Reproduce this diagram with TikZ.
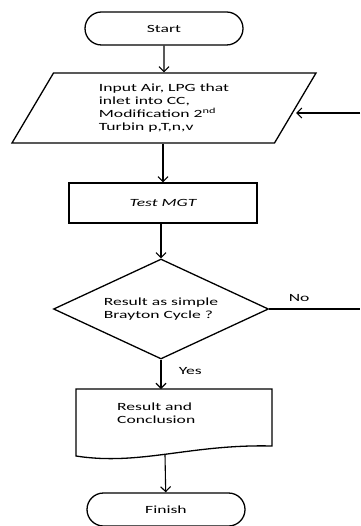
\documentclass[tikz,border=0pt]{standalone}
\usepackage{fontspec}
\setmainfont{Carlito}[FakeStretch=1.6]
\usetikzlibrary{shapes.geometric,shapes.misc,arrows.meta,shadows}
\begin{document}
\begin{tikzpicture}[x=1pt,y=-1pt,
  line/.style={line width=1.1pt},
  arr/.style={line,-{Straight Barb[length=5pt,width=10pt]}},
  shp/.style={draw,line width=1.3pt,inner sep=0pt,font=\fontsize{11}{13}\selectfont},
  term/.style={shp,rounded rectangle,minimum width=158pt,minimum height=33pt},
  lbl/.style={font=\fontsize{11}{13}\selectfont}]
\useasboundingbox (0,0) rectangle (360,526);
\node[term] (start) at (164,28.5) {Start};
\node[shp,trapezium,trapezium left angle=49.4,trapezium right angle=130.6,
  trapezium stretches body,minimum width=304pt,minimum height=70pt,align=left] (input) at (164,108)
  {Input Air, LPG that\\inlet into CC,\\Modification 2\textsuperscript{nd}\\Turbin p,T,n,v};
\node[shp,rectangle,minimum width=188pt,minimum height=40pt,
  drop shadow={shadow xshift=1.2pt,shadow yshift=-1.2pt,fill=black,opacity=1},fill=white] (test) at (163,203)
  {\itshape Test MGT};
\node[shp,diamond,aspect=2.15,minimum width=215pt,minimum height=100pt,align=left] (check) at (161,309)
  {Result as simple\\Brayton Cycle ?};
\draw[line width=1.3pt] (76,389) -- (272,389) -- (272,446) .. controls (190,444) and (140,466) .. (76,456) -- cycle;
\node[lbl,anchor=north west,align=left,inner sep=0pt] (result) at (117,403) {Result and\\Conclusion};
\coordinate (result-n) at (161,389);
\coordinate (result-s) at (165,454.5);
\node[term] (finish) at (166,509.5) {Finish};
\coordinate (fbout) at (360,309);
\coordinate (fbin) at (360,113);
\coordinate (fbtip) at (296,113);
\draw[arr] (start) -- (input);
\draw[arr] (input.south -| test.north) -- (test);
\draw[arr] (test.south -| check.north) -- (check);
\draw[arr] (check) -- (result-n) node[lbl,pos=0.4,right=14pt] {Yes};
\draw[arr] (result-s) -- (finish);
\draw[line] (check.east) -- (fbout) node[lbl,pos=0.33,above=4pt] {No};
\draw[arr] (fbin) -- (fbtip);
\end{tikzpicture}
\end{document}
